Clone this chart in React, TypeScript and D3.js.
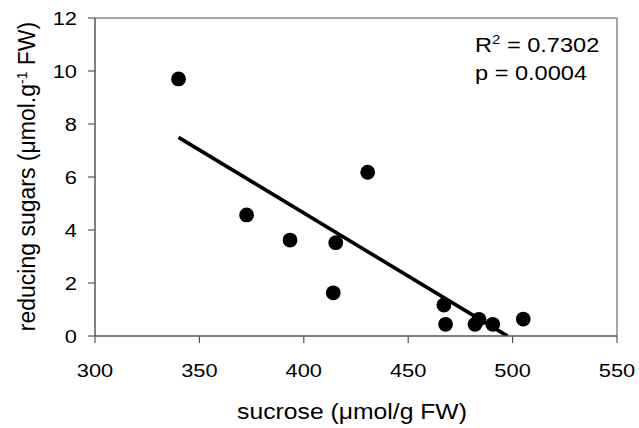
import React from "react";
import * as d3 from "d3";

const sucrose = [340, 372.6, 393.4, 430.6, 415.3, 414.1, 467.1, 467.9, 482.0, 483.9, 490.5, 505.1];
const reducingSugars = [9.7, 4.57, 3.62, 6.18, 3.52, 1.63, 1.17, 0.44, 0.44, 0.63, 0.44, 0.64];
const xTicks = [300, 350, 400, 450, 500, 550];
const yTicks = [0, 2, 4, 6, 8, 10, 12];
const trendIntercept = 23.68;
const trendSlope = -0.0476;
const trendRange = [340, 497.6];
const statLabels = ["R", "= 0.7302", "p = 0.0004"];

const W = 639;
const H = 428;
const left = 95;
const right = 617;
const top = 18;
const bottom = 336;
const FONT = "Liberation Sans, Arial, sans-serif";
const SX = 1.15;

export default function App() {
  const x = d3.scaleLinear().domain([300, 550]).range([left, right]);
  const y = d3.scaleLinear().domain([0, 12]).range([bottom, top]);
  const line = d3
    .line<number>()
    .x((d) => x(d))
    .y((d) => y(trendIntercept + trendSlope * d));
  const axisCol = "#555";
  const fs = 19;
  return (
    <svg
      width={W}
      height={H}
      style={{ position: "absolute", left: 0, top: 0, background: "#fff" }}
      fontFamily={FONT}
    >
      <defs>
        <clipPath id="plot">
          <rect x={left} y={top} width={right - left} height={bottom - top} />
        </clipPath>
      </defs>
      <line x1={left} x2={right} y1={top} y2={top} stroke="#888" strokeWidth={1.5} />
      <line x1={right} x2={right} y1={top} y2={bottom} stroke="#888" strokeWidth={1.5} />
      <path
        d={line(trendRange) || ""}
        stroke="#000"
        strokeWidth={3.6}
        fill="none"
        clipPath="url(#plot)"
      />
      {sucrose.map((s, i) => (
        <circle key={i} cx={x(s)} cy={y(reducingSugars[i])} r={7.4} fill="#000" />
      ))}
      <line x1={left} x2={left} y1={top} y2={bottom} stroke={axisCol} strokeWidth={1.5} />
      <line x1={left} x2={right} y1={bottom} y2={bottom} stroke={axisCol} strokeWidth={1.5} />
      {yTicks.map((t) => (
        <g key={"y" + t}>
          <line x1={left - 7} x2={left} y1={y(t)} y2={y(t)} stroke={axisCol} strokeWidth={1.2} />
          <text
            transform={`translate(${left - 18},${y(t)}) scale(${SX},1)`}
            dy="0.36em"
            textAnchor="end"
            fontSize={fs}
            fill="#000"
          >
            {t}
          </text>
        </g>
      ))}
      {xTicks.map((t) => (
        <g key={"x" + t}>
          <line x1={x(t)} x2={x(t)} y1={bottom} y2={bottom + 7} stroke={axisCol} strokeWidth={1.2} />
          <text
            transform={`translate(${x(t)},${bottom + 41}) scale(${SX},1)`}
            textAnchor="middle"
            fontSize={fs}
            fill="#000"
          >
            {t}
          </text>
        </g>
      ))}
      <text
        transform={`translate(352,419) scale(${SX},1)`}
        textAnchor="middle"
        fontSize={21.5}
        fill="#000"
      >
        sucrose (μmol/g FW)
      </text>
      <text
        transform={`translate(35, 176.5) rotate(-90)`}
        textAnchor="middle"
        fontSize={23}
        fill="#000"
      >
        reducing sugars (μmol.g
        <tspan dy={-8} fontSize={14}>-1</tspan>
        <tspan dy={8}> FW)</tspan>
      </text>
      <text transform={`translate(475,52) scale(${SX},1)`} fontSize={20.5} fill="#000">
        {statLabels[0]}
        <tspan dy={-8} fontSize={13}>2</tspan>
        <tspan dy={8}> {statLabels[1]}</tspan>
      </text>
      <text transform={`translate(475,80) scale(${SX},1)`} fontSize={20.5} fill="#000">
        {statLabels[2]}
      </text>
    </svg>
  );
}
